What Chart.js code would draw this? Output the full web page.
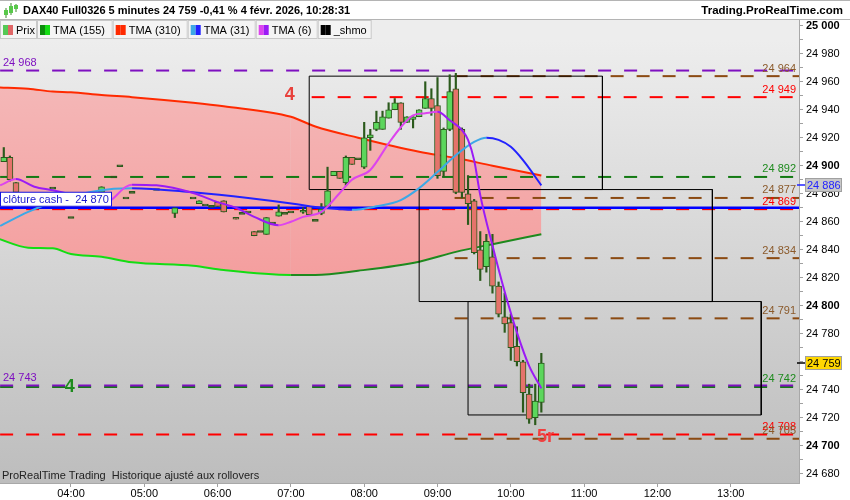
<!DOCTYPE html>
<html>
<head>
<meta charset="utf-8">
<title>DAX40 Full0326 5 minutes</title>
<script src="https://cdn.jsdelivr.net/npm/chart.js@4.4.1/dist/chart.umd.min.js"></script>
<style>
  html, body { margin: 0; padding: 0; background: #ffffff; }
  canvas { display: block; }
</style>
</head>
<body>
<canvas id="chart_DAX" width="850" height="500"></canvas>
<script>
"use strict";

// Candles, 5 minutes bars (time = minutes since midnight)
const candle_times = [185, 190, 195, 225, 240, 265, 275, 280, 285, 290, 310, 325, 340, 345, 350, 355, 360, 365, 375, 380,
                      385, 390, 395, 400, 405, 410, 415, 420, 430, 435, 440, 445, 450, 455, 460, 465, 470, 475, 480, 485,
                      490, 495, 500, 505, 510, 515, 520, 525, 530, 535, 540, 545, 550, 555, 560, 565, 570, 575, 580, 585,
                      590, 595, 600, 605, 610, 615, 620, 625];
const candle_open  = [24903, 24906, 24888, 24884, 24863, 24881, 24892, 24900, 24877, 24881, 24883, 24866, 24877, 24873, 24872, 24871, 24874, 24875, 24863, 24866,
                      24867, 24853, 24853, 24851, 24859, 24864, 24866, 24867, 24867, 24871, 24861, 24866, 24871, 24893, 24896, 24888, 24906, 24905, 24899, 24920,
                      24926, 24926, 24934, 24940, 24945, 24931, 24933, 24935, 24941, 24948, 24943, 24896, 24926, 24955, 24926, 24880, 24875, 24840, 24828, 24835,
                      24814, 24792, 24788, 24771, 24760, 24737, 24720, 24731];
const candle_high  = [24913, 24907, 24888, 24884, 24863, 24885, 24892, 24900, 24877, 24881, 24883, 24870, 24877, 24875, 24872, 24871, 24874, 24875, 24863, 24866,
                      24867, 24853, 24853, 24863, 24859, 24872, 24866, 24867, 24870, 24871, 24861, 24873, 24899, 24896, 24896, 24907, 24906, 24905, 24931, 24926,
                      24939, 24939, 24945, 24948, 24945, 24935, 24935, 24940, 24960, 24955, 24963, 24927, 24965, 24966, 24927, 24893, 24876, 24853, 24851, 24851,
                      24817, 24809, 24794, 24785, 24761, 24744, 24744, 24766];
const candle_low   = [24903, 24889, 24880, 24884, 24863, 24881, 24892, 24900, 24877, 24881, 24883, 24863, 24877, 24873, 24872, 24871, 24871, 24867, 24862, 24866,
                      24867, 24850, 24853, 24851, 24859, 24864, 24866, 24867, 24866, 24865, 24861, 24865, 24870, 24893, 24891, 24886, 24901, 24905, 24898, 24911,
                      24925, 24926, 24934, 24940, 24926, 24931, 24927, 24935, 24941, 24936, 24891, 24892, 24925, 24880, 24877, 24858, 24837, 24818, 24824, 24809,
                      24792, 24781, 24761, 24757, 24724, 24716, 24715, 24724];
const candle_close = [24906, 24890, 24881, 24884, 24863, 24885, 24892, 24900, 24877, 24881, 24883, 24870, 24877, 24875, 24872, 24871, 24871, 24867, 24862, 24866,
                      24867, 24850, 24853, 24863, 24859, 24867, 24866, 24867, 24868, 24865, 24861, 24869, 24882, 24896, 24891, 24906, 24901, 24905, 24920, 24922,
                      24931, 24935, 24940, 24945, 24931, 24935, 24935, 24940, 24948, 24941, 24893, 24926, 24953, 24881, 24881, 24873, 24838, 24826, 24846, 24814,
                      24794, 24787, 24770, 24760, 24738, 24719, 24732, 24759];

// TMA (310) and TMA (155), same time points
const tma_slow_times = [180, 205, 225, 240, 265, 290, 340, 365, 420, 440, 475, 525, 555, 585, 625];
const tma_310 = [24956, 24955, 24953, 24952.5, 24950.5, 24949, 24945, 24942.5, 24935, 24928, 24920, 24910, 24905.5, 24900, 24893];
const tma_155 = [24848, 24841.5, 24841, 24837, 24835, 24831, 24828.5, 24825.5, 24822, 24822, 24825, 24831.5, 24838.5, 24844, 24851];

// TMA (31)
const tma_31_times = [182, 205, 230, 255, 275, 290, 340, 385, 425, 440, 460, 470, 490, 510, 525, 540, 555, 570, 580, 590, 600, 610, 625];
const tma_31 = [24857, 24867, 24875.5, 24881, 24883.5, 24884, 24881, 24877, 24872.5, 24870.5, 24869, 24868.5, 24871, 24875.5, 24884, 24895.5,
                24907.5, 24917, 24920, 24918.5, 24913.5, 24904, 24886];

// TMA (6)
const tma_6_times = [182, 195, 210, 225, 245, 265, 270, 285, 290, 310, 340, 360, 375, 390, 410, 420, 430, 445, 460, 470, 485, 500,
                     510, 520, 530, 540, 550, 560, 565, 570, 575, 585, 595, 605, 615, 625];
const tma_6 = [24886, 24890.5, 24885, 24882.5, 24878.5, 24873.5, 24874, 24885, 24886.5, 24886, 24880.5, 24874, 24870, 24863.5, 24857.5, 24860,
               24863.5, 24867, 24880.5, 24890, 24897, 24916, 24927.5, 24936, 24937.5, 24938.5, 24932.5, 24925.5, 24918.5, 24904, 24879, 24843,
               24810, 24781, 24757, 24741];

// Horizontal levels (value, start time)
const level_values = [24968, 24964, 24949, 24892, 24877, 24869, 24834, 24791, 24743, 24742, 24708, 24705];
const level_from   = [182, 554, 437, 182, 554, 182, 554, 554, 182, 182, 182, 554];
const cash_close = 24870;

// Boxes
const box_from = [435, 525, 565];
const box_to   = [675, 765, 805];
const box_low  = [24883, 24803, 24722];
const box_high = [24964, 24883, 24803];

// Axis ticks
const time_ticks = [240, 300, 360, 420, 480, 540, 600, 660, 720, 780];
const price_ticks = [];
for (let _p = 24680; _p <= 25000; _p += 10) { price_ticks.push(_p); }

const TIME_MIN = 181.9, TIME_MAX = 835.9;
const PRICE_MIN = 24673.4, PRICE_MAX = 25004.1;

// Styles
const C_WICK = '#2B5A1C';
const C_UP = '#5CD65C';
const C_DOWN = '#E5736B';
const C_PURPLE = '#7E10C0', C_BROWN = '#8B4A12', C_RED = '#FF0000', C_GREEN = '#137A13';
const level_styles = [
  { color: C_PURPLE, side: 'left' },
  { color: C_BROWN,  side: 'right', text: '#8B5A2B' },
  { color: C_RED,    side: 'right', text: '#FF0000' },
  { color: C_GREEN,  side: 'right', text: '#1E8B1E' },
  { color: C_BROWN,  side: 'right', text: '#8B5A2B' },
  { color: C_RED,    side: 'right', text: '#FF0000' },
  { color: C_BROWN,  side: 'right', text: '#8B5A2B' },
  { color: C_BROWN,  side: 'right', text: '#8B5A2B' },
  { color: C_PURPLE, side: 'left' },
  { color: C_GREEN,  side: 'right', text: '#1E8B1E' },
  { color: C_RED,    side: 'right', text: '#FF0000' },
  { color: C_BROWN,  side: 'right', text: '#8B5A2B' }
];

Chart.defaults.font.family = '"Liberation Sans", Arial, sans-serif';
Chart.defaults.font.size = 11;
Chart.defaults.color = '#000';

function _fmt(_v) {
  return String(Math.round(_v)).replace(/\B(?=(\d{3})+(?!\d))/g, ' ');
}

function _points(_xs, _ys) {
  return _xs.map(function(_x, _i) { return { x: _x, y: _ys[_i] }; });
}

// Build candles (wicks + bodies as floating bars)
var _wicks = [], _bodies = [], _body_colors = [];
candle_times.forEach(function(_t, _i) {
  var _o = candle_open[_i], _c = candle_close[_i];
  var _lo = Math.min(_o, _c), _hi = Math.max(_o, _c);
  if (_hi - _lo < 1.4) {
    var _m = (_hi + _lo) / 2;
    _lo = _m - 0.7; _hi = _m + 0.7;
  }
  _bodies.push({ x: _t, y: [_lo, _hi] });
  _body_colors.push(_c > _o ? C_UP : (_c < _o ? C_DOWN : C_WICK));
  if (candle_high[_i] > candle_low[_i]) {
    _wicks.push({ x: _t, y: [candle_low[_i], candle_high[_i]] });
  }
});

function _two_tone(_up, _down) {
  return function(_ctx) { return _ctx.p1.parsed.y >= _ctx.p0.parsed.y ? _up : _down; };
}

var _datasets = [];

// TMA 310 with fill down to TMA 155
_datasets.push({
  type: 'line', label: 'TMA (310)', data: _points(tma_slow_times, tma_310),
  borderColor: '#FF2A00', borderWidth: 2, pointRadius: 0, cubicInterpolationMode: 'monotone',
  fill: '+1',
  backgroundColor: function(_ctx) {
    var _chart = _ctx.chart;
    if (!_chart.chartArea) { return '#F4ACAC'; }
    var _g = _chart.ctx.createLinearGradient(0, 80, 0, 280);
    _g.addColorStop(0, '#F4B8B8');
    _g.addColorStop(1, '#F49E9E');
    return _g;
  },
  order: 20
});
_datasets.push({
  type: 'line', label: 'TMA (155)', data: _points(tma_slow_times, tma_155),
  borderWidth: 2, pointRadius: 0, cubicInterpolationMode: 'monotone', fill: false,
  borderColor: '#14DD14',
  segment: { borderColor: _two_tone('#1E8A1E', '#14DD14') },
  order: 19
});

// Levels
level_values.forEach(function(_v, _i) {
  _datasets.push({
    type: 'line', label: 'level ' + _v,
    data: [{ x: level_from[_i], y: _v }, { x: TIME_MAX, y: _v }],
    borderColor: level_styles[_i].color, borderWidth: 2, borderDash: [13, 13],
    pointRadius: 0, fill: false, order: 15
  });
});

// Cash close line
_datasets.push({
  type: 'line', label: 'cash', data: [{ x: TIME_MIN, y: cash_close }, { x: TIME_MAX, y: cash_close }],
  borderColor: '#0000FF', borderWidth: 2.5, pointRadius: 0, fill: false, order: 14
});

// Boxes
box_from.forEach(function(_x0, _i) {
  var _x1 = box_to[_i], _y0 = box_low[_i], _y1 = box_high[_i];
  _datasets.push({
    type: 'line', label: 'box ' + _i,
    data: [{ x: _x0, y: _y1 }, { x: _x1, y: _y1 }, { x: _x1, y: _y0 }, { x: _x0, y: _y0 }, { x: _x0, y: _y1 }],
    borderColor: '#000000', borderWidth: 1, pointRadius: 0, fill: false, tension: 0, order: 13
  });
});

// Candles
_datasets.push({
  type: 'bar', label: 'wicks', data: _wicks, backgroundColor: C_WICK,
  barThickness: 1.5, grouped: false, order: 6
});
_datasets.push({
  type: 'bar', label: 'Prix', data: _bodies, backgroundColor: _body_colors,
  borderColor: C_WICK, borderWidth: 1, borderSkipped: false, barThickness: 6, grouped: false, order: 5
});

// TMA 31 and TMA 6
_datasets.push({
  type: 'line', label: 'TMA (31)', data: _points(tma_31_times, tma_31),
  borderWidth: 2, pointRadius: 0, cubicInterpolationMode: 'monotone', fill: false,
  borderColor: '#2222FF',
  segment: { borderColor: _two_tone('#3DA8E6', '#2222FF') },
  order: 2
});
_datasets.push({
  type: 'line', label: 'TMA (6)', data: _points(tma_6_times, tma_6),
  borderWidth: 2, pointRadius: 0, cubicInterpolationMode: 'monotone', fill: false,
  borderColor: '#9B1BF5',
  segment: { borderColor: _two_tone('#DD44EE', '#9B1BF5') },
  order: 1
});


// Decorations: background, header, legend, labels
const _decor_plugin = {
  id: 'decor',

  beforeDraw: function(_chart) {
    var _ctx = _chart.ctx, _a = _chart.chartArea;
    _ctx.save();
    _ctx.fillStyle = '#ffffff';
    _ctx.fillRect(0, 0, _chart.width, _chart.height);
    var _g = _ctx.createLinearGradient(0, _a.top + 20, 0, _a.bottom);
    _g.addColorStop(0, '#EDEDED');
    _g.addColorStop(1, '#BDBDBD');
    _ctx.fillStyle = _g;
    _ctx.fillRect(_a.left, _a.top, _a.right - _a.left, _a.bottom - _a.top);
    _ctx.restore();
  },

  afterDatasetsDraw: function(_chart) {
    var _ctx = _chart.ctx, _a = _chart.chartArea;
    var _x = _chart.scales.x, _y = _chart.scales.y;
    _ctx.save();
    _ctx.font = '11px "Liberation Sans", Arial, sans-serif';
    _ctx.textBaseline = 'bottom';

    // Level labels
    level_values.forEach(function(_v, _i) {
      var _st = level_styles[_i];
      var _py = _y.getPixelForValue(_v);
      if (_st.side === 'left') {
        _ctx.fillStyle = _st.color;
        _ctx.textAlign = 'left';
        _ctx.fillText(_fmt(_v), 3, _py - 2);
      } else {
        _ctx.fillStyle = _st.text;
        _ctx.textAlign = 'right';
        _ctx.fillText(_fmt(_v), _a.right - 3, _py - 2);
      }
    });

    // clôture cash box
    var _cy = _y.getPixelForValue(cash_close);
    _ctx.fillStyle = '#ffffff';
    _ctx.fillRect(0.5, _cy - 15.5, 111, 14);
    _ctx.strokeStyle = '#1515E0';
    _ctx.lineWidth = 1;
    _ctx.strokeRect(0.5, _cy - 15.5, 111, 14);
    _ctx.fillStyle = '#1A1ACC';
    _ctx.textAlign = 'left';
    _ctx.textBaseline = 'middle';
    _ctx.fillText('cl\u00f4ture cash -  ' + _fmt(cash_close), 3, _cy - 8);

    // Wave annotations
    _ctx.font = 'bold 18px "Liberation Sans", Arial, sans-serif';
    _ctx.textAlign = 'center';
    _ctx.fillStyle = '#E8413C';
    _ctx.fillText('4', _x.getPixelForValue(419), _y.getPixelForValue(24950.5));
    _ctx.fillStyle = '#1E8B1E';
    _ctx.fillText('4', _x.getPixelForValue(239), _y.getPixelForValue(24742));
    _ctx.fillStyle = '#F04040';
    _ctx.fillText('5r', _x.getPixelForValue(628.5), _y.getPixelForValue(24706));

    // Footer text
    _ctx.font = '11px "Liberation Sans", Arial, sans-serif';
    _ctx.fillStyle = '#222222';
    _ctx.textAlign = 'left';
    _ctx.fillText('ProRealTime Trading  Historique ajust\u00e9 aux rollovers', 2, _a.bottom - 7);
    _ctx.restore();
  },

  afterDraw: function(_chart) {
    var _ctx = _chart.ctx, _a = _chart.chartArea;
    var _y = _chart.scales.y;
    _ctx.save();

    // Header row
    _ctx.fillStyle = '#ffffff';
    _ctx.fillRect(0, 0, _chart.width, 19);
    _ctx.strokeStyle = '#B4B4B4';
    _ctx.lineWidth = 1;
    _ctx.beginPath();
    _ctx.moveTo(0, 0.5); _ctx.lineTo(_chart.width, 0.5);
    _ctx.moveTo(0, 19.5); _ctx.lineTo(_chart.width, 19.5);
    _ctx.stroke();

    // Candle icon
    _ctx.fillStyle = '#3C8C2C';
    _ctx.fillRect(5.5, 8, 1, 10); _ctx.fillRect(10.5, 3, 1, 12); _ctx.fillRect(15.5, 4, 1, 8);
    _ctx.fillStyle = '#58C84A';
    _ctx.fillRect(4, 10, 4, 5); _ctx.fillRect(9, 6, 4, 7); _ctx.fillRect(14, 5, 4, 4);

    _ctx.fillStyle = '#000000';
    _ctx.font = 'bold 11px "Liberation Sans", Arial, sans-serif';
    _ctx.textBaseline = 'middle';
    _ctx.textAlign = 'left';
    _ctx.fillText('DAX40 Full0326 5 minutes ' + _fmt(candle_close[candle_close.length - 1]) + ' -0,41 % 4 f\u00e9vr. 2026, 10:28:31', 23, 11);
    _ctx.font = 'bold 11.5px "Liberation Sans", Arial, sans-serif';
    _ctx.textAlign = 'right';
    _ctx.fillText('Trading.ProRealTime.com', 843, 11);

    // Legend boxes
    var _items = [
      { text: 'Prix',      c1: '#55C855', c2: '#E06666', w: 37 },
      { text: 'TMA (155)', c1: '#0C8C0C', c2: '#14DD14', w: 75.7 },
      { text: 'TMA (310)', c1: '#FF2A00', c2: '#FF2A00', w: 75 },
      { text: 'TMA (31)',  c1: '#3DA8E6', c2: '#2222FF', w: 68 },
      { text: 'TMA (6)',   c1: '#DD44EE', c2: '#9B1BF5', w: 62 },
      { text: '_shmo',     c1: '#000000', c2: '#000000', w: 54 }
    ];
    var _lx = 0;
    _ctx.font = '11px "Liberation Sans", Arial, sans-serif';
    _ctx.textAlign = 'left';
    _items.forEach(function(_it) {
      _ctx.fillStyle = '#F4F4F4';
      _ctx.fillRect(_lx, 20, _it.w, 19);
      _ctx.strokeStyle = '#C8C8C8';
      _ctx.strokeRect(_lx + 0.5, 20.5, _it.w - 1, 18);
      _ctx.fillStyle = _it.c1;
      _ctx.fillRect(_lx + 3, 25, 5, 10);
      _ctx.fillStyle = _it.c2;
      _ctx.fillRect(_lx + 8, 25, 5, 10);
      _ctx.fillStyle = '#000000';
      _ctx.fillText(_it.text, _lx + 16, 30.5);
      _lx += _it.w;
    });

    // Axis value boxes
    function _value_box(_v, _bg, _fg, _tick) {
      var _py = Math.round(_y.getPixelForValue(_v));
      _ctx.strokeStyle = _tick;
      _ctx.lineWidth = 1.5;
      _ctx.beginPath();
      _ctx.moveTo(_a.right - 2, _py); _ctx.lineTo(_a.right + 6, _py);
      _ctx.stroke();
      _ctx.fillStyle = _bg;
      _ctx.fillRect(_a.right + 6, _py - 7, 36, 14);
      _ctx.strokeStyle = '#A0A0A0';
      _ctx.lineWidth = 1;
      _ctx.strokeRect(_a.right + 6.5, _py - 6.5, 36, 13);
      _ctx.fillStyle = _fg;
      _ctx.font = '11px "Liberation Sans", Arial, sans-serif';
      _ctx.textAlign = 'left';
      _ctx.textBaseline = 'middle';
      _ctx.fillText(_fmt(_v), _a.right + 8, _py + 0.5);
    }
    _value_box(tma_31[tma_31.length - 1], '#C8C8C8', '#2222FF', '#2222FF');
    _value_box(candle_close[candle_close.length - 1], '#FFD700', '#000000', '#000000');

    _ctx.restore();
  }
};


var _chart_DAX = new Chart(document.getElementById('chart_DAX'), {
  type: 'bar',
  data: { datasets: _datasets },
  options: {
    responsive: false,
    devicePixelRatio: 1,
    animation: false,
    events: [],
    layout: { padding: { top: 20, left: 0, right: 0, bottom: 0 } },
    plugins: {
      legend: { display: false },
      tooltip: { enabled: false }
    },
    scales: {
      x: {
        type: 'linear',
        min: TIME_MIN,
        max: TIME_MAX,
        offset: false,
        afterBuildTicks: function(_s) { _s.ticks = time_ticks.map(function(_v) { return { value: _v }; }); },
        afterFit: function(_s) { _s.height = 17; },
        ticks: {
          autoSkip: false, maxRotation: 0, padding: 0, color: '#000',
          callback: function(_v) { var _h = Math.floor(_v / 60); return (_h < 10 ? '0' : '') + _h + ':00'; }
        },
        grid: { offset: false, drawOnChartArea: false, drawTicks: true, tickLength: 4, color: '#A0A0A0' },
        border: { color: '#A8A8A8' }
      },
      y: {
        type: 'linear',
        position: 'right',
        min: PRICE_MIN,
        max: PRICE_MAX,
        afterBuildTicks: function(_s) { _s.ticks = price_ticks.map(function(_v) { return { value: _v }; }); },
        afterFit: function(_s) { _s.width = 51; },
        ticks: {
          autoSkip: false, padding: 3, color: '#000',
          callback: function(_v) { return (_v % 20 === 0) ? _fmt(_v) : ''; },
          font: function(_ctx) {
            var _v = _ctx.tick ? _ctx.tick.value : 0;
            return { size: 11, weight: (_v % 100 === 0) ? 'bold' : 'normal' };
          }
        },
        grid: { offset: false, drawOnChartArea: false, drawTicks: true, tickLength: 4, color: '#A0A0A0' },
        border: { color: '#A8A8A8' }
      }
    }
  },
  plugins: [_decor_plugin]
});
</script>
</body>
</html>
